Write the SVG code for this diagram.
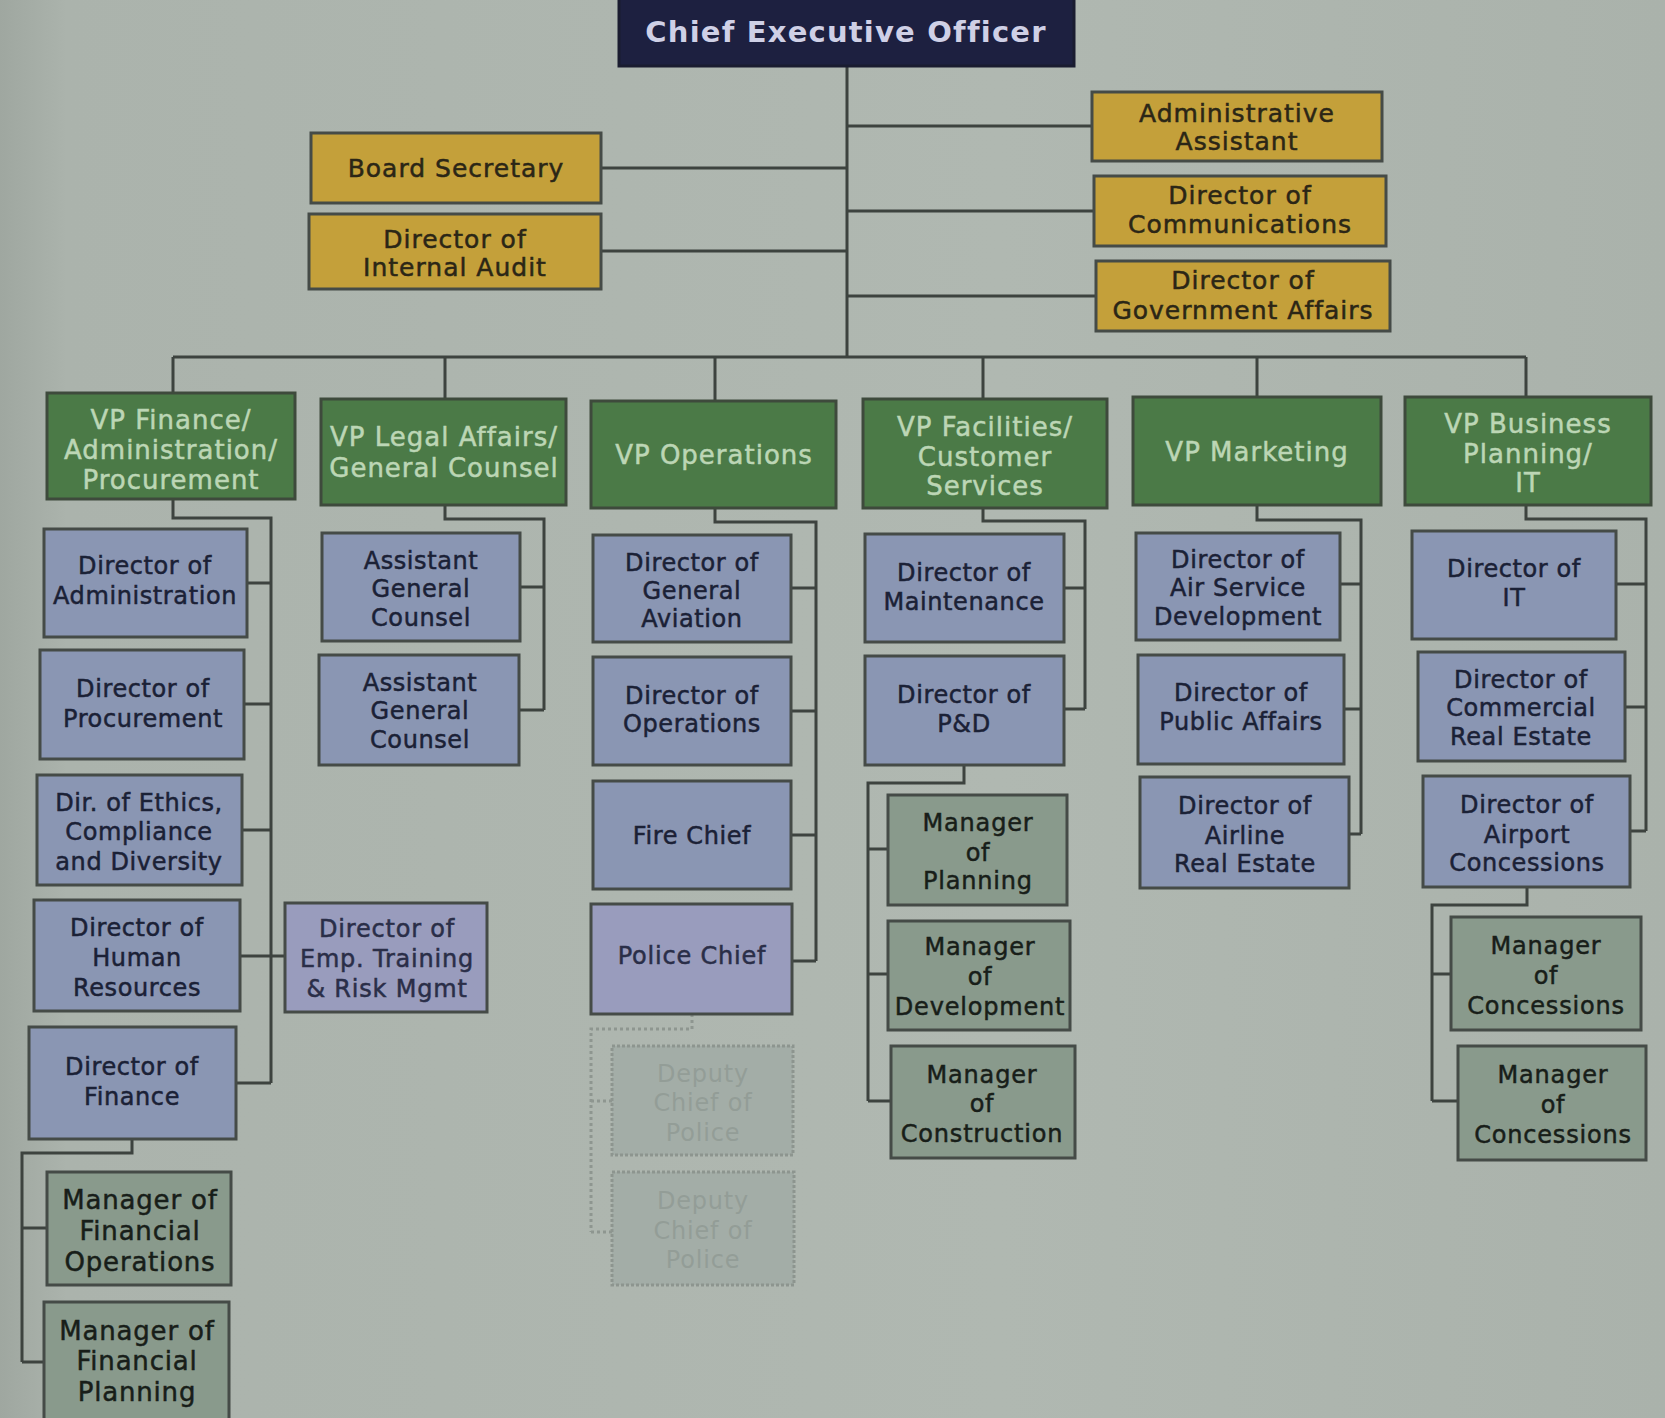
<svg xmlns="http://www.w3.org/2000/svg" width="1665" height="1418" viewBox="0 0 1665 1418">
  <defs>
    <linearGradient id="paper" x1="0" y1="0" x2="1" y2="0">
      <stop offset="0" stop-color="#9fa7a0"/>
      <stop offset="0.04" stop-color="#abb3ac"/>
      <stop offset="0.6" stop-color="#b0b8b1"/>
      <stop offset="1" stop-color="#aab2ab"/>
    </linearGradient>
    <style>
      text { font-family: "DejaVu Sans", "Liberation Sans", sans-serif; text-anchor: middle; stroke-width: 0.5px; }
      .node rect { stroke: #454b47; stroke-width: 3; }
      .ceo rect { fill: #1d2040; stroke: #1a1c30; }
      .ceo text { fill: #cfd0e6; stroke: none; font-size: 29px; font-weight: bold; letter-spacing: 1.2px; }
      .gold rect { fill: #c4a03a; }
      .gold text { fill: #2b2616; stroke: #2b2616; font-size: 25px; letter-spacing: 1px; }
      .vp rect { fill: #4b7a47; stroke: #3e4a3c; }
      .vp text { fill: #bcd6b5; stroke: #bcd6b5; font-size: 26px; letter-spacing: 1px; }
      .dir rect { fill: #8a96b3; }
      .dir text { fill: #1b2136; stroke: #1b2136; font-size: 24px; letter-spacing: 0.6px; }
      .mgr rect { fill: #899a8c; }
      .mgr text { fill: #181e19; stroke: #181e19; font-size: 24px; letter-spacing: 0.8px; }
      .big text { font-size: 26px; }
      .lav rect { fill: #999cbd; }
      .lav text { fill: #2a2e48; stroke: #2a2e48; font-size: 24px; letter-spacing: 0.8px; }
      .ghost rect { fill: #a3ada7; stroke: #8d958f; stroke-dasharray: 3 2; }
      .ghost text { fill: #939d97; stroke: none; font-size: 24px; letter-spacing: 0.8px; }
      .links path { fill: none; stroke: #3d433f; stroke-width: 3; }
      .links path.faint { stroke: #8e9690; stroke-dasharray: 3 3; }
    </style>
  </defs>

  <rect width="1665" height="1418" fill="url(#paper)"/>

  <!-- reporting lines -->
  <g id="connectors" class="links">
    <!-- executive trunk and staff -->
    <path d="M847 66 V357"/>
    <path d="M601 168 H847 M601 251 H847"/>
    <path d="M847 126 H1092 M847 211 H1094 M847 296 H1096"/>
    <!-- bus to vice presidents -->
    <path d="M173 357 H1526"/>
    <path d="M173 357 V393 M445 357 V399 M715 357 V401 M983 357 V399 M1257 357 V397 M1526 357 V397"/>
    <!-- finance column -->
    <path d="M173 499 V518 H271 V1083"/>
    <path d="M247 583 H271 M244 704 H271 M242 830 H271 M240 956 H285 M236 1083 H271"/>
    <path d="M132 1139 V1153 H22 V1362 M22 1228 H47 M22 1362 H44"/>
    <!-- legal column -->
    <path d="M445 505 V519 H544 V710 M520 587 H544 M519 710 H544"/>
    <!-- operations column -->
    <path d="M715 508 V522 H816 V961 M791 588 H816 M791 711 H816 M791 835 H816 M792 961 H816"/>
    <path class="faint" d="M692 1014 V1029 H591 V1232 M591 1101 H612 M591 1232 H612"/>
    <!-- facilities column -->
    <path d="M983 508 V521 H1085 V709 M1064 588 H1085 M1064 709 H1085"/>
    <path d="M964 765 V783 H868 V1101 M868 849 H888 M868 974 H888 M868 1101 H891"/>
    <!-- marketing column -->
    <path d="M1257 505 V520 H1361 V834 M1340 584 H1361 M1344 709 H1361 M1349 834 H1361"/>
    <!-- business planning column -->
    <path d="M1526 505 V519 H1646 V831 M1616 584 H1646 M1625 707 H1646 M1630 831 H1646"/>
    <path d="M1527 887 V905 H1432 V1101 M1432 974 H1451 M1432 1101 H1458"/>
  </g>

  <!-- executive -->
  <g id="ceo" class="node ceo">
    <rect x="619" y="-4" width="455" height="70"/>
    <text x="846" y="42">Chief Executive Officer</text>
  </g>

  <!-- executive staff -->
  <g id="board-secretary" class="node gold">
    <rect x="311" y="133" width="290" height="70"/>
    <text x="456" y="177">Board Secretary</text>
  </g>
  <g id="internal-audit" class="node gold">
    <rect x="309" y="214" width="292" height="75"/>
    <text x="455" y="248">Director of</text>
    <text x="455" y="276">Internal Audit</text>
  </g>
  <g id="admin-assistant" class="node gold">
    <rect x="1092" y="92" width="290" height="69"/>
    <text x="1237" y="122">Administrative</text>
    <text x="1237" y="150">Assistant</text>
  </g>
  <g id="communications" class="node gold">
    <rect x="1094" y="176" width="292" height="70"/>
    <text x="1240" y="204">Director of</text>
    <text x="1240" y="233">Communications</text>
  </g>
  <g id="government-affairs" class="node gold">
    <rect x="1096" y="261" width="294" height="70"/>
    <text x="1243" y="289">Director of</text>
    <text x="1243" y="319">Government Affairs</text>
  </g>

  <!-- vice presidents -->
  <g id="vp-finance" class="node vp">
    <rect x="47" y="393" width="248" height="106"/>
    <text x="171" y="429">VP Finance/</text>
    <text x="171" y="459">Administration/</text>
    <text x="171" y="489">Procurement</text>
  </g>
  <g id="vp-legal" class="node vp">
    <rect x="321" y="399" width="245" height="106"/>
    <text x="444" y="446">VP Legal Affairs/</text>
    <text x="444" y="477">General Counsel</text>
  </g>
  <g id="vp-operations" class="node vp">
    <rect x="591" y="401" width="245" height="107"/>
    <text x="714" y="464">VP Operations</text>
  </g>
  <g id="vp-facilities" class="node vp">
    <rect x="863" y="399" width="244" height="109"/>
    <text x="985" y="436">VP Facilities/</text>
    <text x="985" y="466">Customer</text>
    <text x="985" y="495">Services</text>
  </g>
  <g id="vp-marketing" class="node vp">
    <rect x="1133" y="397" width="248" height="108"/>
    <text x="1257" y="461">VP Marketing</text>
  </g>
  <g id="vp-business" class="node vp">
    <rect x="1405" y="397" width="246" height="108"/>
    <text x="1528" y="433">VP Business</text>
    <text x="1528" y="463">Planning/</text>
    <text x="1528" y="492">IT</text>
  </g>

  <!-- finance / administration / procurement -->
  <g id="dir-administration" class="node dir">
    <rect x="44" y="529" width="203" height="108"/>
    <text x="145" y="574">Director of</text>
    <text x="145" y="604">Administration</text>
  </g>
  <g id="dir-procurement" class="node dir">
    <rect x="40" y="650" width="204" height="109"/>
    <text x="143" y="697">Director of</text>
    <text x="143" y="727">Procurement</text>
  </g>
  <g id="dir-ethics" class="node dir">
    <rect x="37" y="775" width="205" height="110"/>
    <text x="139" y="811">Dir. of Ethics,</text>
    <text x="139" y="840">Compliance</text>
    <text x="139" y="870">and Diversity</text>
  </g>
  <g id="dir-human-resources" class="node dir">
    <rect x="34" y="900" width="206" height="111"/>
    <text x="137" y="936">Director of</text>
    <text x="137" y="966">Human</text>
    <text x="137" y="996">Resources</text>
  </g>
  <g id="dir-emp-training" class="node lav">
    <rect x="285" y="903" width="202" height="109"/>
    <text x="387" y="937">Director of</text>
    <text x="387" y="967">Emp. Training</text>
    <text x="387" y="997">&amp; Risk Mgmt</text>
  </g>
  <g id="dir-finance" class="node dir">
    <rect x="29" y="1027" width="207" height="112"/>
    <text x="132" y="1075">Director of</text>
    <text x="132" y="1105">Finance</text>
  </g>
  <g id="mgr-financial-operations" class="node mgr big">
    <rect x="47" y="1172" width="184" height="113"/>
    <text x="140" y="1209">Manager of</text>
    <text x="140" y="1240">Financial</text>
    <text x="140" y="1271">Operations</text>
  </g>
  <g id="mgr-financial-planning" class="node mgr big">
    <rect x="44" y="1302" width="185" height="124"/>
    <text x="137" y="1340">Manager of</text>
    <text x="137" y="1370">Financial</text>
    <text x="137" y="1401">Planning</text>
  </g>

  <!-- legal affairs -->
  <g id="asst-general-counsel-1" class="node dir">
    <rect x="322" y="533" width="198" height="108"/>
    <text x="421" y="569">Assistant</text>
    <text x="421" y="597">General</text>
    <text x="421" y="626">Counsel</text>
  </g>
  <g id="asst-general-counsel-2" class="node dir">
    <rect x="319" y="655" width="200" height="110"/>
    <text x="420" y="691">Assistant</text>
    <text x="420" y="719">General</text>
    <text x="420" y="748">Counsel</text>
  </g>

  <!-- operations -->
  <g id="dir-general-aviation" class="node dir">
    <rect x="593" y="535" width="198" height="107"/>
    <text x="692" y="571">Director of</text>
    <text x="692" y="599">General</text>
    <text x="692" y="627">Aviation</text>
  </g>
  <g id="dir-operations" class="node dir">
    <rect x="593" y="657" width="198" height="108"/>
    <text x="692" y="704">Director of</text>
    <text x="692" y="732">Operations</text>
  </g>
  <g id="fire-chief" class="node dir">
    <rect x="593" y="781" width="198" height="108"/>
    <text x="692" y="844">Fire Chief</text>
  </g>
  <g id="police-chief" class="node lav">
    <rect x="591" y="904" width="201" height="110"/>
    <text x="692" y="964">Police Chief</text>
  </g>
  <g id="deputy-chief-1" class="node ghost">
    <rect x="612" y="1046" width="181" height="109"/>
    <text x="703" y="1082">Deputy</text>
    <text x="703" y="1111">Chief of</text>
    <text x="703" y="1141">Police</text>
  </g>
  <g id="deputy-chief-2" class="node ghost">
    <rect x="612" y="1172" width="182" height="113"/>
    <text x="703" y="1209">Deputy</text>
    <text x="703" y="1239">Chief of</text>
    <text x="703" y="1268">Police</text>
  </g>

  <!-- facilities / customer services -->
  <g id="dir-maintenance" class="node dir">
    <rect x="865" y="534" width="199" height="108"/>
    <text x="964" y="581">Director of</text>
    <text x="964" y="610">Maintenance</text>
  </g>
  <g id="dir-pd" class="node dir">
    <rect x="865" y="656" width="199" height="109"/>
    <text x="964" y="703">Director of</text>
    <text x="964" y="732">P&amp;D</text>
  </g>
  <g id="mgr-planning" class="node mgr">
    <rect x="888" y="795" width="179" height="110"/>
    <text x="978" y="831">Manager</text>
    <text x="978" y="861">of</text>
    <text x="978" y="889">Planning</text>
  </g>
  <g id="mgr-development" class="node mgr">
    <rect x="888" y="921" width="182" height="109"/>
    <text x="980" y="955">Manager</text>
    <text x="980" y="985">of</text>
    <text x="980" y="1015">Development</text>
  </g>
  <g id="mgr-construction" class="node mgr">
    <rect x="891" y="1046" width="184" height="112"/>
    <text x="982" y="1083">Manager</text>
    <text x="982" y="1112">of</text>
    <text x="982" y="1142">Construction</text>
  </g>

  <!-- marketing -->
  <g id="dir-air-service" class="node dir">
    <rect x="1136" y="533" width="204" height="107"/>
    <text x="1238" y="568">Director of</text>
    <text x="1238" y="596">Air Service</text>
    <text x="1238" y="625">Development</text>
  </g>
  <g id="dir-public-affairs" class="node dir">
    <rect x="1138" y="655" width="206" height="109"/>
    <text x="1241" y="701">Director of</text>
    <text x="1241" y="730">Public Affairs</text>
  </g>
  <g id="dir-airline-real-estate" class="node dir">
    <rect x="1140" y="777" width="209" height="111"/>
    <text x="1245" y="814">Director of</text>
    <text x="1245" y="844">Airline</text>
    <text x="1245" y="872">Real Estate</text>
  </g>

  <!-- business planning / IT -->
  <g id="dir-it" class="node dir">
    <rect x="1412" y="531" width="204" height="108"/>
    <text x="1514" y="577">Director of</text>
    <text x="1514" y="606">IT</text>
  </g>
  <g id="dir-commercial-real-estate" class="node dir">
    <rect x="1418" y="652" width="207" height="109"/>
    <text x="1521" y="688">Director of</text>
    <text x="1521" y="716">Commercial</text>
    <text x="1521" y="745">Real Estate</text>
  </g>
  <g id="dir-airport-concessions" class="node dir">
    <rect x="1423" y="776" width="207" height="111"/>
    <text x="1527" y="813">Director of</text>
    <text x="1527" y="843">Airport</text>
    <text x="1527" y="871">Concessions</text>
  </g>
  <g id="mgr-concessions-1" class="node mgr">
    <rect x="1451" y="917" width="190" height="113"/>
    <text x="1546" y="954">Manager</text>
    <text x="1546" y="984">of</text>
    <text x="1546" y="1014">Concessions</text>
  </g>
  <g id="mgr-concessions-2" class="node mgr">
    <rect x="1458" y="1046" width="188" height="114"/>
    <text x="1553" y="1083">Manager</text>
    <text x="1553" y="1113">of</text>
    <text x="1553" y="1143">Concessions</text>
  </g>
</svg>
